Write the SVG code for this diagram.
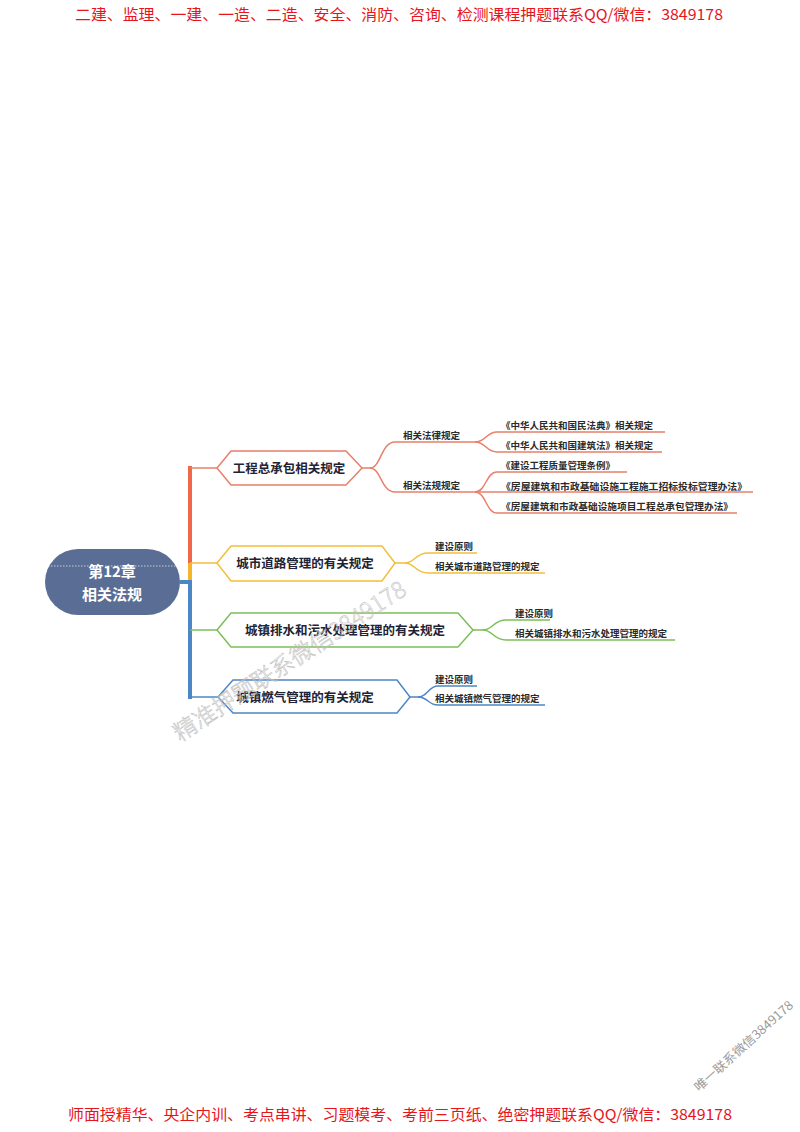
<svg xmlns="http://www.w3.org/2000/svg" width="800" height="1132" viewBox="0 0 800 1132">
<style>
text{font-family:"Noto Sans CJK SC","Noto Sans",sans-serif}
.banner{fill:#e8141c;font-size:15px}
.main{font-size:12.5px;font-weight:bold;fill:#1f2333;text-anchor:middle}
.sub{font-size:9.5px;font-weight:bold;fill:#2a2a2a}
.hex{fill:#fff;stroke-width:1.5}
.ln{fill:none;stroke-width:1.5}
.red{stroke:#e8806b}.yel{stroke:#f2bf3a}.grn{stroke:#7cbf5a}.blu{stroke:#4c86c6}
.wm{fill:#fff;fill-opacity:0.2;stroke:#b8b8b8;stroke-width:0.5;font-weight:300}
</style>
<rect width="800" height="1132" fill="#fff"/>
<text class="banner" x="75" y="20" textLength="648" lengthAdjust="spacingAndGlyphs">二建、监理、一建、一造、二造、安全、消防、咨询、检测课程押题联系QQ/微信：3849178</text>
<text class="banner" x="68" y="1120" textLength="664" lengthAdjust="spacingAndGlyphs">师面授精华、央企内训、考点串讲、习题模考、考前三页纸、绝密押题联系QQ/微信：3849178</text>

<g id="connectors">
  <line x1="190" y1="466" x2="190" y2="563" stroke="#f0674c" stroke-width="4"/>
  <line x1="190" y1="563" x2="190" y2="580" stroke="#f5b52a" stroke-width="4"/>
  <line x1="190" y1="580" x2="190" y2="699" stroke="#4c86c6" stroke-width="4"/>
  <line x1="180" y1="582" x2="190" y2="582" stroke="#4c86c6" stroke-width="4"/>
  <line x1="190" y1="468" x2="218" y2="468" class="ln red"/>
  <line x1="190" y1="563" x2="218" y2="563" class="ln yel"/>
  <line x1="190" y1="630" x2="218" y2="630" class="ln grn"/>
  <line x1="190" y1="697" x2="218" y2="697" class="ln blu"/>
  <!-- branch 1 -->
  <path class="ln red" d="M362,468 L370,468 C381,468 381,442 395,442 L475,442"/>
  <path class="ln red" d="M370,468 C381,468 381,492 395,492 L475,492"/>
  <path class="ln red" d="M475,442 C486,442 486,432 497,432 L665,432"/>
  <path class="ln red" d="M475,442 C486,442 486,452 497,452 L662,452"/>
  <path class="ln red" d="M475,492 C486,492 486,472 497,472 L627,472"/>
  <path class="ln red" d="M475,492 L753,492"/>
  <path class="ln red" d="M475,492 C486,492 486,513 497,513 L737,513"/>
  <!-- branch 2 -->
  <path class="ln yel" d="M395,563 L405,563 C415,563 415,553 428,553 L477,553"/>
  <path class="ln yel" d="M405,563 C415,563 415,573 428,573 L545,573"/>
  <!-- branch 3 -->
  <path class="ln grn" d="M473,630 L483,630 C493,630 493,620 506,620 L550,620"/>
  <path class="ln grn" d="M483,630 C493,630 493,640 506,640 L675,640"/>
  <!-- branch 4 -->
  <path class="ln blu" d="M410,697 L418,697 C428,697 428,686 438,686 L477,686"/>
  <path class="ln blu" d="M418,697 C428,697 428,705 438,705 L545,705"/>
</g>

<g id="root">
  <rect x="45" y="549" width="135" height="66" rx="33" fill="#5a6e95"/>
  <line x1="48" y1="566" x2="178" y2="566" stroke="#fff" stroke-width="0.8" stroke-dasharray="1.5 1.5" opacity="0.8"/>
  <text x="112" y="577" font-size="15" font-weight="bold" fill="#fff" text-anchor="middle">第12章</text>
  <text x="112" y="600" font-size="15" font-weight="bold" fill="#fff" text-anchor="middle">相关法规</text>
</g>

<g id="n1">
  <polygon class="hex red" points="217,468 231,451 346,451 362,468 346,485 231,485"/>
  <text class="main" x="289" y="473">工程总承包相关规定</text>
</g>
<g id="n1a"><text class="sub" x="403" y="439">相关法律规定</text></g>
<g id="n1b"><text class="sub" x="403" y="489">相关法规规定</text></g>
<g id="n1a1"><text class="sub" x="501" y="429">《中华人民共和国民法典》相关规定</text></g>
<g id="n1a2"><text class="sub" x="501" y="449">《中华人民共和国建筑法》相关规定</text></g>
<g id="n1b1"><text class="sub" x="501" y="469">《建设工程质量管理条例》</text></g>
<g id="n1b2"><text class="sub" x="501" y="490" textLength="246" lengthAdjust="spacingAndGlyphs">《房屋建筑和市政基础设施工程施工招标投标管理办法》</text></g>
<g id="n1b3"><text class="sub" x="501" y="510" textLength="232" lengthAdjust="spacingAndGlyphs">《房屋建筑和市政基础设施项目工程总承包管理办法》</text></g>

<g id="n2">
  <polygon class="hex yel" points="217,563 231,546 382,546 395,563 382,581 231,581"/>
  <text class="main" x="305" y="568">城市道路管理的有关规定</text>
</g>
<g id="n2a"><text class="sub" x="435" y="550">建设原则</text></g>
<g id="n2b"><text class="sub" x="435" y="570">相关城市道路管理的规定</text></g>

<g id="n3">
  <polygon class="hex grn" points="217,630 231,613 458,613 473,630 458,647 231,647"/>
  <text class="main" x="345" y="635">城镇排水和污水处理管理的有关规定</text>
</g>
<g id="n3a"><text class="sub" x="515" y="617">建设原则</text></g>
<g id="n3b"><text class="sub" x="515" y="637">相关城镇排水和污水处理管理的规定</text></g>

<g id="n4">
  <polygon class="hex blu" points="218,697 233,680 397,680 410,697 397,713 233,713"/>
  <text class="main" x="305" y="702">城镇燃气管理的有关规定</text>
</g>
<g id="n4a"><text class="sub" x="435" y="683">建设原则</text></g>
<g id="n4b"><text class="sub" x="435" y="702">相关城镇燃气管理的规定</text></g>

<text class="wm" x="0" y="0" font-size="23" transform="translate(180,742) rotate(-33)" textLength="272" lengthAdjust="spacingAndGlyphs">精准押题联系微信3849178</text>
<text x="0" y="0" font-size="12.5" fill="#9a9a9a" transform="translate(699,1092) rotate(-42)" textLength="128" lengthAdjust="spacingAndGlyphs">唯一联系微信3849178</text>
</svg>
